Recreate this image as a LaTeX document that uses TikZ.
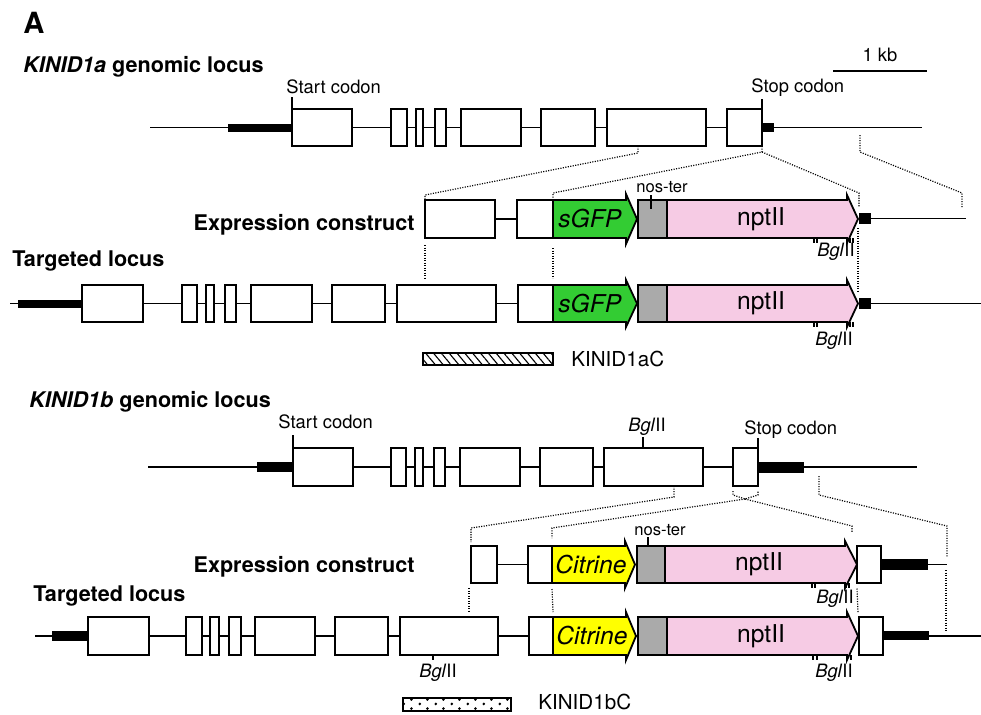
\documentclass[tikz,border=0pt]{standalone}
\usepackage{fontspec}
\setmainfont{TeX Gyre Heros}
\usetikzlibrary{positioning, fit, calc, patterns.meta}

\definecolor{gfpgreen}{RGB}{51,204,51}
\definecolor{cityellow}{RGB}{255,255,0}
\definecolor{nosgray}{RGB}{170,170,170}
\definecolor{nptpink}{RGB}{246,203,228}

\tikzdeclarepattern{
  name=probedots,
  type=uncolored,
  bottom left={(0pt,0pt)},
  top right={(8pt,4.5pt)},
  tile size={(8pt,4.5pt)},
  code={
    \pgfpathcircle{\pgfpoint{2pt}{1.1pt}}{0.75pt}
    \pgfpathcircle{\pgfpoint{6pt}{3.4pt}}{0.75pt}
    \pgfusepath{fill}
  }
}

\begin{document}
\begin{tikzpicture}[x=0.5pt, y=-0.5pt,
  dna/.style={line width=0.85pt},
  exon/.style={draw, line width=0.9pt, fill=white, inner sep=0pt, outer sep=0pt},
  utr/.style={draw=none, fill=black, inner sep=0pt, outer sep=0pt},
  nos/.style={exon, fill=nosgray},
  cds/.style={draw, line width=0.9pt, line join=miter},
  site/.style={line width=0.55pt},
  guide/.style={line width=0.6pt, dash pattern=on 0.55pt off 0.7pt},
  panel/.style={font=\fontsize{14.6}{17}\selectfont\bfseries, inner sep=0pt},
  hd/.style={font=\fontsize{10.8}{13}\selectfont\bfseries, inner sep=0pt},
  lbl/.style={font=\fontsize{9.2}{11}\selectfont, inner sep=0pt},
  noslbl/.style={font=\fontsize{8.3}{10}\selectfont, inner sep=0pt},
  genelbl/.style={font=\fontsize{12.3}{14}\selectfont, inner sep=0pt},
  probelbl/.style={font=\fontsize{10.3}{12}\selectfont, inner sep=0pt},
  probe/.style={draw, line width=0.65pt, inner sep=0pt, outer sep=0pt},
]
\useasboundingbox (0,0) rectangle (981,714);

\node[panel, anchor=base west] (pA) at (23,33) {A};

%% KINID1a genomic locus
\node[hd, anchor=base west] (h1) at (23,72) {\textit{KINID1a} genomic locus};
\coordinate (a0) at (150,127.5);
\coordinate (a9) at (922,127.5);
\draw[dna] (a0) -- (a9);
\node[utr, fit={(228,123.5) (292,131.5)}] (a1u) {};
\node[exon, fit={(292,109) (352,146)}] (a1) {};
\node[exon, fit={(391,109) (407,146)}] (a2) {};
\node[exon, fit={(416,109) (423,146)}] (a3) {};
\node[exon, fit={(435,109) (446,146)}] (a4) {};
\node[exon, fit={(461,109) (521,146)}] (a5) {};
\node[exon, fit={(541,109) (595,146)}] (a6) {};
\node[exon, fit={(607,109) (706,146)}] (a7) {};
\node[exon, fit={(727,109) (762,146)}] (a8) {};
\node[utr, fit={(762,123) (774,132)}] (a8u) {};
\draw[site] (a1.north west) -- ++(0,-12);
\node[lbl, anchor=base west] (a1start) at (286,93) {Start codon};
\draw[site] (a8.north east) -- ++(0,-10);
\node[lbl, anchor=base west] (a8stop) at (751,92) {Stop codon};

% scale bar
\coordinate (kb0) at (833,71);
\coordinate (kb1) at (927,71);
\draw[dna] (kb0) -- (kb1);
\node[lbl, anchor=base] (kbl) at (880,61) {1 kb};

%% expression construct (a)
\node[hd, anchor=base east] (h2) at (415,230) {Expression construct};
\coordinate (c9) at (966,218.5);
\coordinate (ctip) at (858,219);
\node[exon, fit={(425,200) (495,238)}] (c1) {};
\node[exon, fit={(517,200) (553,238)}] (c2) {};
\draw[dna] (c1) -- (c2);
\draw[cds, fill=gfpgreen] (553,200) -- ++(73,0) -- ++(0,-6) -- ++(11,25) -- ++(-11,25) -- ++(0,-6) -- ++(-73,0) -- cycle;
\node[genelbl] (cgfp) at (590,219) {\textit{sGFP}};
\node[nos, fit={(638,200) (667,238)}] (cnos) {};
\draw[cds, fill=nptpink] (667,200) -- ++(180,0) -- ++(0,-5) -- (ctip) -- ++(-11,24) -- ++(0,-5) -- ++(-180,0) -- cycle;
\node[genelbl] (cnpt) at (761,219) {nptII};
\node[utr, fit={(859,213) (871,224)}] (cu) {};
\draw[dna] (cu) -- (c9);
\draw[site] (651,195) -- (651,209);
\node[noslbl, anchor=base] (cnoster) at (662,192) {nos-ter};
\foreach \x in {814,817,850,853} \draw[site] (\x,238) -- ++(0,5);
\node[lbl, anchor=base] (cbgl) at (836,256) {\textit{Bgl}II};

% guides genomic -> construct
\draw[guide] ($(a7.south west)+(31,0)$) -- ++(0,7) -- ([yshift=2.5pt]c1.north west) -- (c1.north west);
\draw[guide] (a8.south east) -- ++(0,6) coordinate (a8g) -- ([yshift=3.5pt]c2.north east) -- (c2.north east);
\draw[guide] (a8g) -- ([shift={(1,-26)}]ctip) -- ([shift={(1,-12)}]ctip);
\draw[guide] (860,135) -- ++(0,17) -- (962,193) -- ++(0,15);

%% targeted locus (a)
\node[hd, anchor=base west] (h3) at (12,266) {Targeted locus};
\coordinate (t0) at (10,303.5);
\coordinate (t9) at (981,303.5);
\coordinate (ttip) at (858,303.5);
\draw[dna] (t0) -- (t9);
\node[utr, fit={(18,299.5) (82,307.5)}] (t1u) {};
\node[exon, fit={(82,285) (143,322)}] (t1) {};
\node[exon, fit={(182,285) (197,322)}] (t2) {};
\node[exon, fit={(206,285) (214,322)}] (t3) {};
\node[exon, fit={(225,285) (236,322)}] (t4) {};
\node[exon, fit={(251,285) (312,322)}] (t5) {};
\node[exon, fit={(332,285) (385,322)}] (t6) {};
\node[exon, fit={(397,285) (496,322)}] (t7) {};
\node[exon, fit={(518,285) (553,322)}] (t8) {};
\draw[cds, fill=gfpgreen] (553,285) -- ++(73,0) -- ++(0,-5) -- ++(11,23.5) -- ++(-11,23.5) -- ++(0,-5) -- ++(-73,0) -- cycle;
\node[genelbl] (tgfp) at (590,303.5) {\textit{sGFP}};
\node[nos, fit={(638,285) (667,322)}] (tnos) {};
\draw[cds, fill=nptpink] (667,285) -- ++(180,0) -- ++(0,-5) -- (ttip) -- ++(-11,23.5) -- ++(0,-5) -- ++(-180,0) -- cycle;
\node[genelbl] (tnpt) at (761,303.5) {nptII};
\node[utr, fit={(859,298) (871,309)}] (tu) {};
\foreach \x in {814,817,850,853} \draw[site] (\x,322) -- ++(0,5);
\node[lbl, anchor=base] (tbgl) at (834,345) {\textit{Bgl}II};

% guides construct -> targeted
\draw[guide] ([yshift=-3.5pt]c1.south west) -- ([yshift=3.5pt]c1.south west |- t7.north);
\draw[guide] ([yshift=-5pt]c2.south east) -- ([yshift=3.5pt]t8.north east);
\draw[guide] ([yshift=-4.5pt]ctip) -- ([yshift=6pt]ttip);

% probe (a)
\node[probe, pattern={Lines[angle=-50, distance=3pt, line width=0.55pt]}, fit={(423,353) (553,365)}] (p1) {};
\node[probelbl, anchor=west] (p1l) at (571,359) {KINID1aC};

%% KINID1b genomic locus
\node[hd, anchor=base west] (h4) at (29,407) {\textit{KINID1b} genomic locus};
\coordinate (b0) at (148,467);
\coordinate (b9) at (917,467);
\draw[dna] (b0) -- (b9);
\node[utr, fit={(257,462) (293,472)}] (b1u) {};
\node[exon, fit={(293,448) (353,486)}] (b1) {};
\node[exon, fit={(391,448) (406,486)}] (b2) {};
\node[exon, fit={(415,448) (423,486)}] (b3) {};
\node[exon, fit={(434,448) (445,486)}] (b4) {};
\node[exon, fit={(460,448) (520,486)}] (b5) {};
\node[exon, fit={(540,448) (593,486)}] (b6) {};
\node[exon, fit={(604,448) (703,486)}] (b7) {};
\node[exon, fit={(733,448) (758,486)}] (b8) {};
\node[utr, fit={(758,461.5) (804,472.5)}] (b8u) {};
\draw[site] (b1.north west) -- ++(0,-13);
\node[lbl, anchor=base west] (b1start) at (278,428) {Start codon};
\draw[site] ($(b7.north west)+(39,0)$) -- ++(0,-11);
\node[lbl, anchor=base] (b7bgl) at (647,431) {\textit{Bgl}II};
\draw[site] (b8.north east) -- ++(0,-10);
\node[lbl, anchor=base west] (b8stop) at (744,434) {Stop codon};

%% expression construct (b)
\node[hd, anchor=base east] (h5) at (415,572) {Expression construct};
\coordinate (d9) at (947,564.5);
\coordinate (dtip) at (857,564.5);
\node[exon, fit={(471,546) (497,583)}] (d1) {};
\node[exon, fit={(528,546) (552,583)}] (d2) {};
\draw[dna] (d1) -- (d2);
\draw[cds, fill=cityellow] (552,546) -- ++(73,0) -- ++(0,-5) -- ++(10,23.5) -- ++(-10,23.5) -- ++(0,-5) -- ++(-73,0) -- cycle;
\node[genelbl] (dcit) at (591,564.5) {\textit{Citrine}};
\node[nos, fit={(637,546) (665,583)}] (dnos) {};
\draw[cds, fill=nptpink] (665,546) -- ++(180,0) -- ++(0,-5) -- (dtip) -- ++(-12,23.5) -- ++(0,-5) -- ++(-180,0) -- cycle;
\node[genelbl] (dnpt) at (759,564.5) {nptII};
\node[exon, fit={(857,546) (881,583)}] (d3) {};
\node[utr, fit={(881,559) (928,570)}] (d3u) {};
\draw[dna] (d3u) -- (d9);
\draw[site] (648,537) -- (648,546);
\node[noslbl, anchor=base] (dnoster) at (660,535) {nos-ter};
\foreach \x in {812,815,846,849} \draw[site] (\x,583) -- ++(0,5);
\node[lbl, anchor=base] (dbgl) at (835,603) {\textit{Bgl}II};

% guides genomic -> construct
\draw[guide] ($(b7.south west)+(70,0)$) -- ++(0,11) -- ([yshift=9pt]d1.north west) -- ([yshift=2pt]d1.north west);
\draw[guide] ($(b8.south west)+(0,5)$) -- ++(0,4) -- ++(12,4) coordinate (bg) -- ($(b8.south east)+(0,9)$) -- ++(0,-4);
\draw[guide] (bg) -- ([yshift=9pt]d2.north east) -- ([yshift=4pt]d2.north east);
\draw[guide] (bg) -- (852,526) -- ++(0,6);
\draw[guide] (819,476) -- ++(0,19) -- (947,526) -- ++(0,31);

%% targeted locus (b)
\node[hd, anchor=base west] (h6) at (33,601) {Targeted locus};
\coordinate (u0) at (35,636);
\coordinate (u9) at (981,636);
\coordinate (utip) at (858,636);
\draw[dna] (u0) -- (u9);
\node[utr, fit={(52,631) (88,641)}] (u1u) {};
\node[exon, fit={(88,617) (149,655)}] (u1) {};
\node[exon, fit={(186,617) (202,655)}] (u2) {};
\node[exon, fit={(210,617) (219,655)}] (u3) {};
\node[exon, fit={(229,617) (241,655)}] (u4) {};
\node[exon, fit={(255,617) (315,655)}] (u5) {};
\node[exon, fit={(335,617) (388,655)}] (u6) {};
\node[exon, fit={(400,617) (498,655)}] (u7) {};
\node[exon, fit={(529,617) (553,655)}] (u8) {};
\draw[cds, fill=cityellow] (553,617) -- ++(73,0) -- ++(0,-5) -- ++(10,24) -- ++(-10,24) -- ++(0,-5) -- ++(-73,0) -- cycle;
\node[genelbl] (ucit) at (592,636) {\textit{Citrine}};
\node[nos, fit={(638,617) (667,655)}] (unos) {};
\draw[cds, fill=nptpink] (667,617) -- ++(180,0) -- ++(0,-5) -- (utip) -- ++(-11,24) -- ++(0,-5) -- ++(-180,0) -- cycle;
\node[genelbl] (unpt) at (761,636) {nptII};
\node[exon, fit={(859,617) (883,655)}] (u9e) {};
\node[utr, fit={(883,631) (929,640)}] (u9u) {};
\draw[site] ($(u7.south west)+(33,0)$) -- ++(0,5);
\node[lbl, anchor=base] (u7bgl) at (438,677) {\textit{Bgl}II};
\foreach \x in {813,817,847,851} \draw[site] (\x,655) -- ++(0,5);
\node[lbl, anchor=base] (ubgl) at (834,677) {\textit{Bgl}II};

% guides construct -> targeted
\draw[guide] ([shift={(-2,5)}]d1.south west) -- ([shift={(-2,-5)}]d1.south west |- u7.north);
\draw[guide] ([yshift=-3pt]d2.south east) -- ([yshift=2.5pt]u8.north east);
\draw[guide] ([yshift=-12pt]dtip) -- ([yshift=11.5pt]utip);
\draw[guide] (946,570) -- (946,632);

% probe (b)
\node[probe, pattern=probedots, fit={(403,698) (511,711)}] (p2) {};
\node[probelbl, anchor=west] (p2l) at (538,702) {KINID1bC};
\end{tikzpicture}
\end{document}
